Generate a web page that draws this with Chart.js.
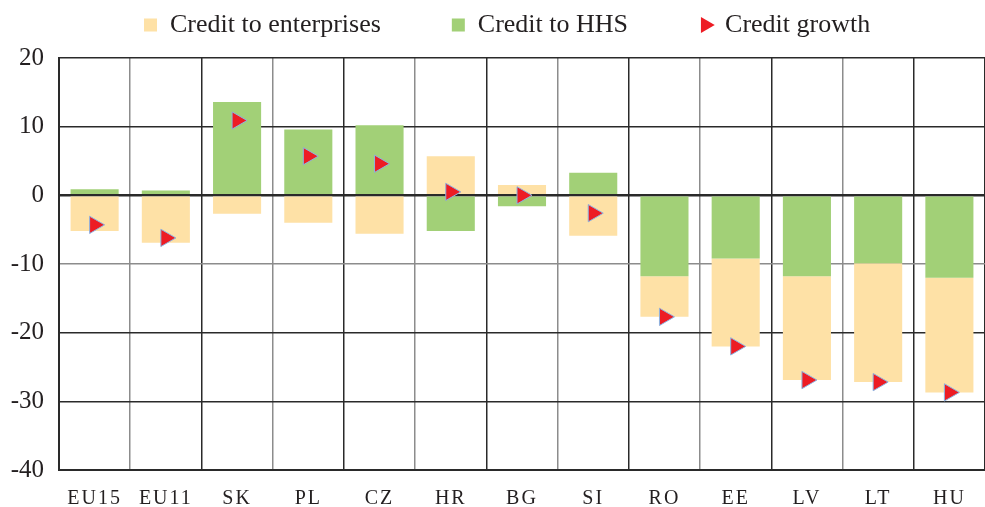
<!DOCTYPE html>
<html>
<head>
<meta charset="utf-8">
<script src="https://cdn.jsdelivr.net/npm/chart.js@4/dist/chart.umd.min.js"></script>
<style>
html,body{margin:0;padding:0;background:#fff;}
#wrap{width:985px;height:507px;position:relative;}
</style>
</head>
<body>
<div id="wrap"><canvas id="c" width="985" height="507"></canvas></div>
<script>
const categories = ['EU15','EU11','SK','PL','CZ','HR','BG','SI','RO','EE','LV','LT','HU'];
const creditToEnterprises = [-5.2,-6.9,-2.7,-4.0,-5.6,5.7,1.5,-5.9,-5.9,-12.8,-15.1,-17.3,-16.7];
const creditToHHS = [0.9,0.7,13.6,9.6,10.2,-5.2,-1.6,3.3,-11.8,-9.2,-11.8,-9.9,-12.0];
const creditGrowth = [-4.3,-6.2,10.9,5.7,4.6,0.5,0.0,-2.6,-17.7,-22.0,-26.9,-27.2,-28.7];
const yTicks = [-40,-30,-20,-10,0,10,20];
const seriesNames = ['Credit to enterprises','Credit to HHS','Credit growth'];

const LEGEND_PAD = 71;
const FONT = "'Liberation Serif', 'Times New Roman', serif";
const TEXT = '#231f20';

const legendPlacer = {
  id: 'legendPlacer',
  afterLayout(chart) {
    const lg = chart.legend;
    if (!lg || !lg.lineWidths) return;
    const start = (lg.left + LEGEND_PAD + lg.right - lg.lineWidths[0]) / 2;
    const dx = 144 - start;
    lg.left += dx; lg.right += dx;
    lg.top = 12 - LEGEND_PAD;
    const xs = chart.scales.x;
    if (!xs._spaced) {
      const orig = xs.drawLabels.bind(xs);
      xs.drawLabels = function(area) {
        const c = chart.ctx;
        c.save();
        try { c.letterSpacing = '2px'; } catch (e) {}
        orig(area);
        c.restore();
      };
      xs._spaced = true;
    }
  }
};

new Chart(document.getElementById('c'), {
  data: {
    labels: categories,
    datasets: [
      {
        type: 'bar', label: seriesNames[0], data: creditToEnterprises,
        backgroundColor: '#fee1a6', borderWidth: 0, order: 2, stack: 's',
        barPercentage: 0.675, categoryPercentage: 1.0, pointStyle: 'rect'
      },
      {
        type: 'bar', label: seriesNames[1], data: creditToHHS,
        backgroundColor: '#a2d077', borderWidth: 0, order: 1, stack: 's',
        barPercentage: 0.675, categoryPercentage: 1.0, pointStyle: 'rect'
      },
      {
        type: 'line', label: seriesNames[2], data: creditGrowth,
        showLine: false, stack: 'g', order: 0,
        pointStyle: 'triangle', pointRotation: 90, pointRadius: 10,
        pointBackgroundColor: '#ed1c24', pointBorderColor: '#8db4e2', pointBorderWidth: 1,
        backgroundColor: '#ed1c24', borderColor: '#8db4e2'
      }
    ]
  },
  options: {
    responsive: false,
    animation: false,
    events: [],
    layout: { padding: 0, autoPadding: false },
    plugins: {
      tooltip: { enabled: false },
      legend: {
        position: 'top',
        maxHeight: 58,
        labels: {
          usePointStyle: true,
          boxWidth: 13, boxHeight: 13,
          padding: LEGEND_PAD,
          color: TEXT,
          font: { family: FONT, size: 26 },
          sort: (a, b) => a.datasetIndex - b.datasetIndex,
          generateLabels(chart) {
            const items = Chart.defaults.plugins.legend.labels.generateLabels(chart);
            items.forEach(it => { it.lineWidth = 0; });
            return items;
          }
        }
      }
    },
    scales: {
      x: {
        stacked: true,
        grid: {
          offset: true,
          drawTicks: false,
          color: ctx => (ctx.index % 2 === 1 ? '#8c8c8c' : '#2a2a2a'),
          lineWidth: 1.5
        },
        border: { color: '#2a2a2a', width: 2 },
        ticks: { color: TEXT, font: { family: FONT, size: 20 }, padding: 17, maxRotation: 0, autoSkip: false },
        afterFit: s => { s.height = 37; s.paddingRight = 0; s.paddingLeft = 0; }
      },
      y: {
        stacked: true,
        min: -40, max: 20,
        afterBuildTicks: s => { s.ticks = yTicks.map(v => ({ value: v })); },
        grid: {
          drawTicks: false,
          color: ctx => (ctx.tick && ctx.tick.value === -10 ? '#8c8c8c' : '#2a2a2a'),
          lineWidth: ctx => (ctx.tick && ctx.tick.value === 0 ? 2.5 : 1.5)
        },
        border: { color: '#2a2a2a', width: 2 },
        ticks: { color: TEXT, font: { family: FONT, size: 25 }, padding: 15 },
        afterFit: s => { s.width = 59; }
      }
    }
  },
  plugins: [legendPlacer]
});
</script>
</body>
</html>
